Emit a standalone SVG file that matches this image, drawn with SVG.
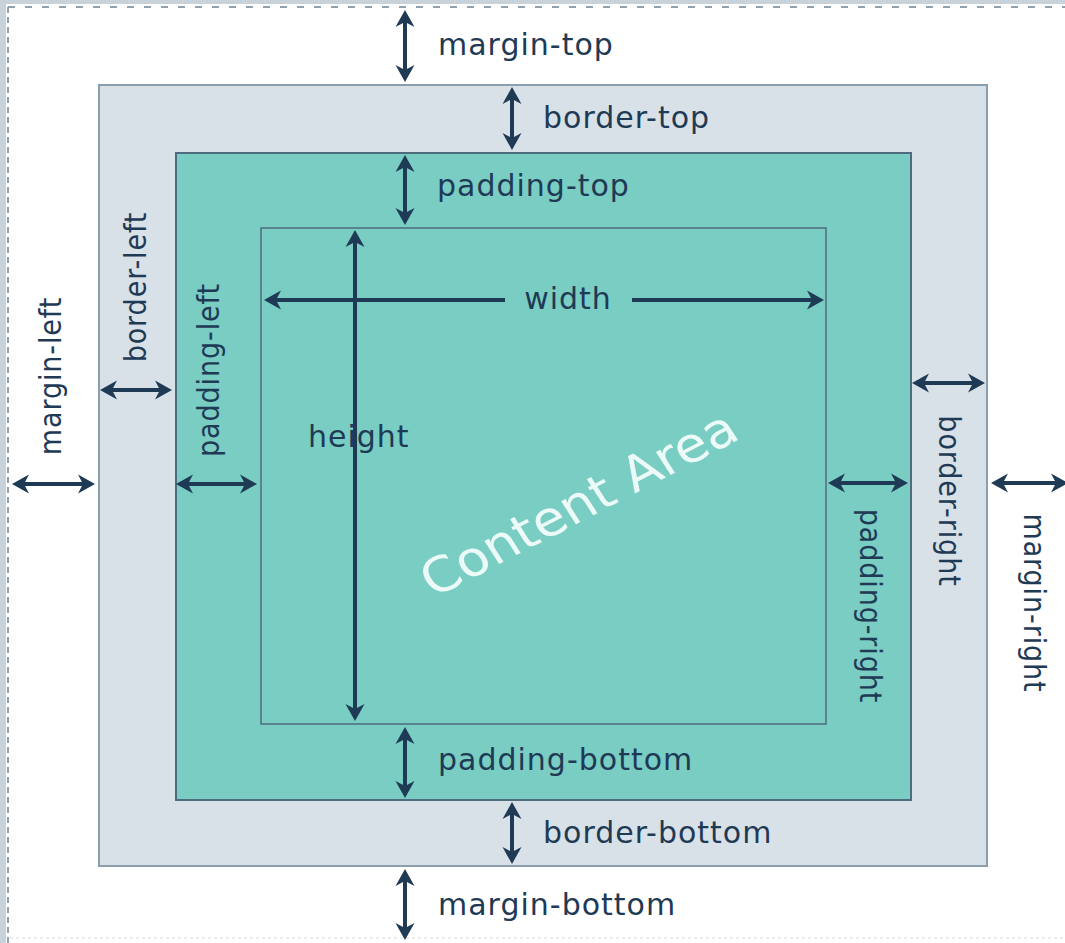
<svg xmlns="http://www.w3.org/2000/svg" width="1065" height="943" viewBox="0 0 1065 943">
<style>
.lbl{font-family:"DejaVu Sans","Liberation Sans",sans-serif;font-size:30px;fill:#1f3a55;letter-spacing:1px}
.arr{stroke:#1f3a55;stroke-width:4;fill:none;marker-start:url(#ah);marker-end:url(#ah)}
.arr1{stroke:#1f3a55;stroke-width:4;fill:none;marker-end:url(#ah)}
.box{stroke-width:2}
</style>
<defs>
<marker id="ah" markerUnits="userSpaceOnUse" markerWidth="20" markerHeight="20" refX="0" refY="0" orient="auto-start-reverse" overflow="visible">
<path d="M5,0 L-12,-9.5 L-7,0 L-12,9.5 Z" fill="#1f3a55"/>
</marker>
</defs>
<rect x="0" y="0" width="1065" height="943" fill="#ffffff"/>
<g id="frame">
<rect x="0" y="0" width="1065" height="4" fill="#c8d2da"/>
<rect x="0" y="0" width="6" height="943" fill="#c8d2da"/>
<line x1="8" y1="7" x2="1065" y2="7" stroke="#8fa0ae" stroke-width="2" stroke-dasharray="7 10"/>
<line x1="8" y1="7" x2="8" y2="943" stroke="#8fa0ae" stroke-width="2" stroke-dasharray="6 4"/>
<line x1="10" y1="938" x2="1065" y2="938" stroke="#e3e8ec" stroke-width="1.5" stroke-dasharray="3 3"/>
</g>
<g id="border-box">
<rect class="box" x="99" y="85" width="888" height="781" fill="#d9e1e8" stroke="#8a9eae"/>
</g>
<g id="padding-box">
<rect class="box" x="176" y="153" width="735" height="647" fill="#79cdc3" stroke="#4f6b7e"/>
</g>
<g id="content-box">
<rect x="261" y="228" width="565" height="496" fill="#79cdc3" stroke="#4f6b7e" stroke-width="1.5"/>
<text transform="translate(588,518) scale(1,0.9) rotate(-30)" text-anchor="middle" font-family="'DejaVu Sans','Liberation Sans',sans-serif" font-size="54" fill="#ecfaf8">Content Area</text>
</g>
<g id="connectors">
<line class="arr" x1="405" y1="15" x2="405" y2="77"/>
<line class="arr" x1="512" y1="92" x2="512" y2="145"/>
<line class="arr" x1="405" y1="160" x2="405" y2="220"/>
<line class="arr1" x1="505" y1="300" x2="269" y2="300"/>
<line class="arr1" x1="632" y1="300" x2="819" y2="300"/>
<line class="arr" x1="355" y1="235" x2="355" y2="716"/>
<line class="arr" x1="405" y1="732" x2="405" y2="793"/>
<line class="arr" x1="512" y1="807" x2="512" y2="859"/>
<line class="arr" x1="405" y1="874" x2="405" y2="935"/>
<line class="arr" x1="17" y1="484" x2="90" y2="484"/>
<line class="arr" x1="105" y1="390" x2="167" y2="390"/>
<line class="arr" x1="181" y1="484" x2="252" y2="484"/>
<line class="arr" x1="833" y1="483" x2="903" y2="483"/>
<line class="arr" x1="917" y1="383" x2="980" y2="383"/>
<line class="arr" x1="996" y1="483" x2="1063" y2="483"/>
</g>
<g id="labels">
<text class="lbl" x="438" y="55">margin-top</text>
<text class="lbl" x="543" y="128">border-top</text>
<text class="lbl" x="437" y="196">padding-top</text>
<text class="lbl" x="568" y="309" text-anchor="middle">width</text>
<text class="lbl" x="308" y="447">height</text>
<text class="lbl" x="438" y="770">padding-bottom</text>
<text class="lbl" x="543" y="843">border-bottom</text>
<text class="lbl" x="438" y="915">margin-bottom</text>
<text class="lbl" transform="translate(61,376) rotate(-90) scale(0.9,1)" text-anchor="middle">margin-left</text>
<text class="lbl" transform="translate(146,287) rotate(-90) scale(0.9,1)" text-anchor="middle">border-left</text>
<text class="lbl" transform="translate(219,370) rotate(-90) scale(0.9,1)" text-anchor="middle">padding-left</text>
<text class="lbl" transform="translate(860,606) rotate(90) scale(0.9,1)" text-anchor="middle">padding-right</text>
<text class="lbl" transform="translate(939,501) rotate(90) scale(0.9,1)" text-anchor="middle">border-right</text>
<text class="lbl" transform="translate(1024,603) rotate(90) scale(0.9,1)" text-anchor="middle">margin-right</text>
</g>
</svg>
